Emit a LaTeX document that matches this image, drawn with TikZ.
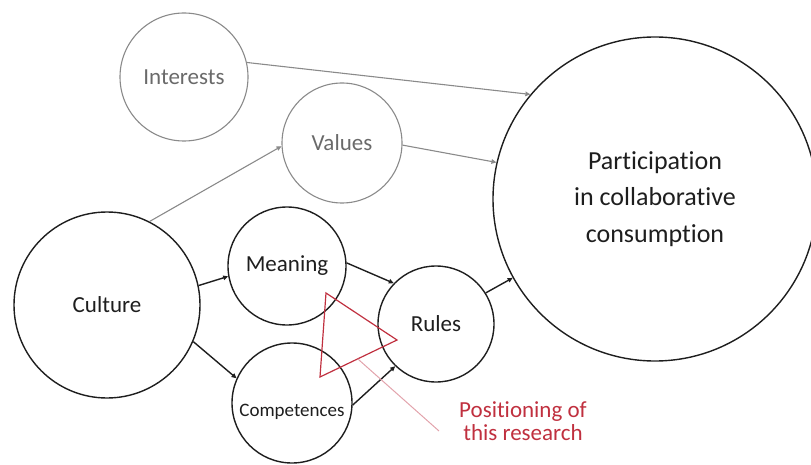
\documentclass[tikz,border=0pt]{standalone}
\usepackage{fontspec}
\setmainfont{Carlito}[Ligatures={NoCommon}]
\usetikzlibrary{arrows.meta,calc}

\definecolor{ink}{HTML}{1E1E1E}
\definecolor{soft}{HTML}{8A8A8A}
\definecolor{softtext}{HTML}{6A6A6A}
\definecolor{accent}{HTML}{C0303F}
\definecolor{pointer}{HTML}{E2A3AC}

\tikzset{
  blob/.style={circle, draw=ink, line width=1.4pt, inner sep=0pt, text=ink,
               font=\fontsize{23}{27}\selectfont},
  faint/.style={blob, draw=soft, line width=1.1pt, text=softtext},
  link/.style={draw=ink, line width=1.4pt, -{Triangle[length=5pt,width=4.5pt]}},
  faintlink/.style={link, draw=soft, line width=1.1pt},
  focus/.style={draw=accent, line width=1.2pt, line join=miter},
  poslabel/.style={text=accent, align=center, inner sep=0pt,
                   font=\fontsize{23}{23}\selectfont},
}

\begin{document}
\begin{tikzpicture}[x=1pt, y=-1pt]
  \useasboundingbox (0,0) rectangle (811,465);

  % circles
  \node[faint, minimum size=128pt] (interests) at (184,77) {Interests};
  \node[faint, minimum size=120pt] (values) at (342,143) {Values};
  \node[blob, minimum size=186pt] (culture) at (107,305) {Culture};
  \node[blob, minimum size=118pt] (meaning) at (287,266) {Meaning};
  \node[blob, minimum size=120pt,
        label={[font=\fontsize{19}{22}\selectfont, text=ink, yshift=-9pt]center:Competences}]
        (competences) at (292,403) {};
  \node[blob, minimum size=116pt] (rules) at (436,324) {Rules};
  \node[blob, minimum size=324pt, align=center,
        font=\fontsize{26}{36.5}\selectfont] (part) at (655,199)
        {Participation\\in collaborative\\consumption};

  % influences
  \draw[faintlink] (interests.13) -- (part.140);
  \draw[faintlink] (values.-2) -- (part.167);
  \draw[faintlink] (culture.63) -- (values.183);
  \draw[link] (culture.12) -- (meaning.190);
  \draw[link] (culture.-23) -- (competences.156);
  \draw[link] (meaning.3) -- (rules.136);
  \draw[link] (competences.-2) -- (rules.226);
  \draw[link] (rules.32) -- (part.209);

  % focus of the study
  \coordinate (t1) at (326,293);
  \coordinate (t2) at (320,377);
  \coordinate (t3) at (397,340);
  \draw[focus] (t1) -- (t2) -- (t3) -- cycle;

  \node[poslabel] (pos) at (523,421) {Positioning of\\this research};
  \coordinate (ptr) at (439,431);
  \draw[pointer, line width=1pt] ($(t2)!0.49!(t3)$) -- (ptr);
\end{tikzpicture}
\end{document}
